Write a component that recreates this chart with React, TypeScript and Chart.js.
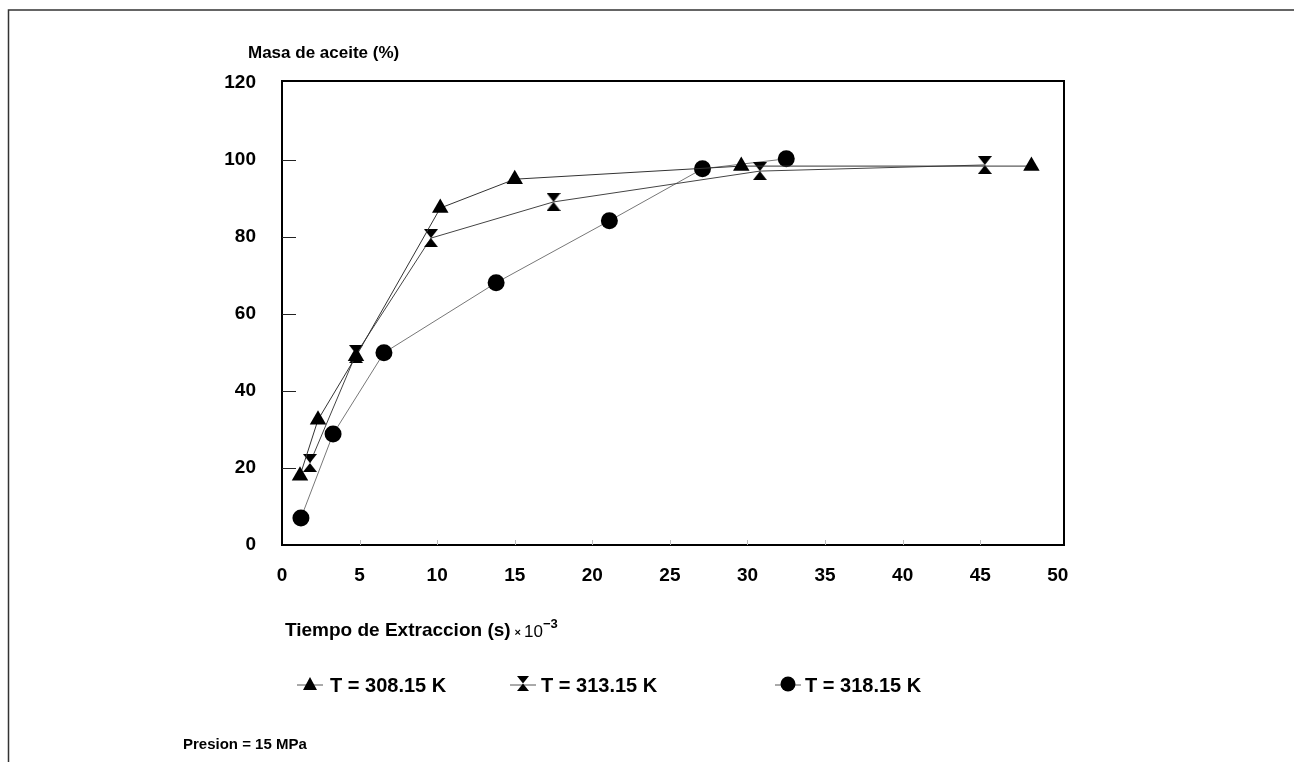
import React, { useEffect, useRef } from "react";
import { Chart, registerables } from "chart.js";

Chart.register(...registerables);

const FONT = '"Liberation Sans", Arial, Helvetica, sans-serif';

// Axis ticks
const xTickValues = [0, 5, 10, 15, 20, 25, 30, 35, 40, 45, 50];
const yTickValues = [0, 20, 40, 60, 80, 100, 120];

// Series: T = 308.15 K (triangles)
const t308x = [1.16, 2.32, 4.77, 10.2, 15.0, 29.6, 48.3];
const t308y = [18, 32.5, 49, 87.5, 95, 98.4, 98.4];

// Series: T = 313.15 K (hourglass)
const t313x = [1.8, 4.77, 9.6, 17.5, 30.8, 45.3];
const t313y = [21.3, 49.6, 79.7, 89.1, 97.1, 98.7];

// Series: T = 318.15 K (circles)
const t318x = [1.22, 3.29, 6.57, 13.8, 21.1, 27.1, 32.5];
const t318y = [7.0, 28.8, 49.9, 68.1, 84.2, 97.7, 100.3];

const seriesLabels = ["T = 308.15 K", "T = 313.15 K", "T = 318.15 K"];

const yTitle = "Masa de aceite (%)";
const xTitle = "Tiempo de Extraccion (s)";
const note = "Presion = 15 MPa";

function makeHourglass(w: number, h: number): HTMLCanvasElement {
  const c = document.createElement("canvas");
  c.width = w;
  c.height = h;
  const ctx = c.getContext("2d")!;
  ctx.fillStyle = "#000";
  ctx.beginPath();
  ctx.moveTo(0, 0);
  ctx.lineTo(w, 0);
  ctx.lineTo(w / 2, h / 2);
  ctx.closePath();
  ctx.fill();
  ctx.beginPath();
  ctx.moveTo(w / 2, h / 2);
  ctx.lineTo(w, h);
  ctx.lineTo(0, h);
  ctx.closePath();
  ctx.fill();
  return c;
}

const zip = (xs: number[], ys: number[]) => xs.map((x, i) => ({ x, y: ys[i] }));

export default function App() {
  const ref = useRef<HTMLCanvasElement | null>(null);

  useEffect(() => {
    const canvas = ref.current!;
    const hourglass = makeHourglass(14, 18);
    const hourglassSmall = makeHourglass(12, 15);

    const decor = {
      id: "decor",
      afterDraw(chart: any) {
        const ctx = chart.ctx as CanvasRenderingContext2D;
        const a = chart.chartArea;
        const xs = chart.scales.x;
        const ys = chart.scales.y;
        ctx.save();
        // outer frame (top + left)
        ctx.strokeStyle = "#333";
        ctx.lineWidth = 1.5;
        ctx.beginPath();
        ctx.moveTo(1294, 10);
        ctx.lineTo(8.5, 10);
        ctx.lineTo(8.5, 762);
        ctx.stroke();

        // plot frame
        ctx.strokeStyle = "#000";
        ctx.lineWidth = 2;
        ctx.strokeRect(a.left, a.top, a.right - a.left, a.bottom - a.top);

        // inward y ticks
        ctx.lineWidth = 1;
        ctx.strokeStyle = "#222";
        yTickValues.forEach((v) => {
          if (v === 0 || v === 120) return;
          const py = Math.round(ys.getPixelForValue(v)) + 0.5;
          ctx.beginPath();
          ctx.moveTo(a.left, py);
          ctx.lineTo(a.left + 14, py);
          ctx.stroke();
        });
        // faint inward x ticks
        ctx.strokeStyle = "#bbb";
        xTickValues.forEach((v) => {
          if (v === 0 || v === 50) return;
          const px = Math.round(xs.getPixelForValue(v)) + 0.5;
          ctx.beginPath();
          ctx.moveTo(px, a.bottom);
          ctx.lineTo(px, a.bottom - 5);
          ctx.stroke();
        });

        // titles
        ctx.fillStyle = "#000";
        ctx.textBaseline = "middle";
        ctx.textAlign = "left";
        ctx.font = `bold 17px ${FONT}`;
        ctx.fillText(yTitle, 248, 53);

        ctx.font = `bold 19px ${FONT}`;
        ctx.fillText(xTitle, 285, 631);
        let w = ctx.measureText(xTitle).width;
        let cx = 285 + w + 4;
        ctx.font = `bold 11px ${FONT}`;
        ctx.fillText("×", cx, 633);
        cx += ctx.measureText("×").width + 3;
        ctx.font = `17px ${FONT}`;
        ctx.fillText("10", cx, 632);
        cx += ctx.measureText("10").width;
        ctx.font = `bold 13px ${FONT}`;
        ctx.fillText("−3", cx, 624);

        // legend
        const ly = 685;
        const legendMarkers = [310, 523, 788];
        const legendText = [330, 541, 805];
        ctx.strokeStyle = "#555";
        ctx.lineWidth = 1;
        legendMarkers.forEach((mx) => {
          ctx.beginPath();
          ctx.moveTo(mx - 13, ly);
          ctx.lineTo(mx + 13, ly);
          ctx.stroke();
        });
        ctx.fillStyle = "#000";
        // triangle
        {
          const mx = legendMarkers[0];
          ctx.beginPath();
          ctx.moveTo(mx, ly - 8);
          ctx.lineTo(mx + 7, ly + 5);
          ctx.lineTo(mx - 7, ly + 5);
          ctx.closePath();
          ctx.fill();
        }
        ctx.drawImage(hourglassSmall, legendMarkers[1] - 6, ly - 9);
        ctx.beginPath();
        ctx.arc(legendMarkers[2], ly - 1, 7.5, 0, Math.PI * 2);
        ctx.fill();

        ctx.font = `bold 20px ${FONT}`;
        seriesLabels.forEach((s, i) => ctx.fillText(s, legendText[i], ly + 1));

        ctx.font = `bold 15px ${FONT}`;
        ctx.fillText(note, 183, 745);
        ctx.restore();
      },
    };

    const chart = new Chart(canvas, {
      type: "scatter",
      data: {
        datasets: [
          {
            label: seriesLabels[0],
            data: zip(t308x, t308y),
            showLine: true,
            borderColor: "#333",
            borderWidth: 1,
            backgroundColor: "#000",
            pointStyle: "triangle",
            pointRadius: 9.5,
            pointBorderWidth: 0,
          },
          {
            label: seriesLabels[1],
            data: zip(t313x, t313y),
            showLine: true,
            borderColor: "#444",
            borderWidth: 1,
            backgroundColor: "#000",
            pointStyle: hourglass as any,
            pointRadius: 9,
          },
          {
            label: seriesLabels[2],
            data: zip(t318x, t318y),
            showLine: true,
            borderColor: "#777",
            borderWidth: 1,
            backgroundColor: "#000",
            pointStyle: "circle",
            pointRadius: 8.5,
            pointBorderWidth: 0,
          },
        ],
      },
      options: {
        animation: false,
        responsive: false,
        layout: { padding: { left: 0, top: 81, right: 230, bottom: 0 } },
        plugins: {
          legend: { display: false },
          tooltip: { enabled: false },
          title: { display: false },
        },
        scales: {
          x: {
            type: "linear",
            min: 0,
            max: 50.4,
            afterBuildTicks: (s: any) => {
              s.ticks = xTickValues.map((v) => ({ value: v }));
            },
            afterFit: (s: any) => {
              s.height = 217;
            },
            grid: { display: false, drawTicks: false },
            border: { display: false },
            ticks: {
              color: "#000",
              font: { family: FONT, size: 19, weight: "bold" },
              padding: 19,
              maxRotation: 0,
              autoSkip: false,
            },
          },
          y: {
            type: "linear",
            min: 0,
            max: 120.5,
            afterBuildTicks: (s: any) => {
              s.ticks = yTickValues.map((v) => ({ value: v }));
            },
            afterFit: (s: any) => {
              s.width = 282;
            },
            grid: { display: false, drawTicks: false },
            border: { display: false },
            ticks: {
              color: "#000",
              font: { family: FONT, size: 19, weight: "bold" },
              padding: 26,
              autoSkip: false,
            },
          },
        },
      },
      plugins: [decor],
    });
    return () => chart.destroy();
  }, []);

  return (
    <div style={{ position: "absolute", left: 0, top: 0, width: 1294, height: 762, background: "#fff" }}>
      <canvas ref={ref} width={1294} height={762} style={{ display: "block" }} />
    </div>
  );
}
